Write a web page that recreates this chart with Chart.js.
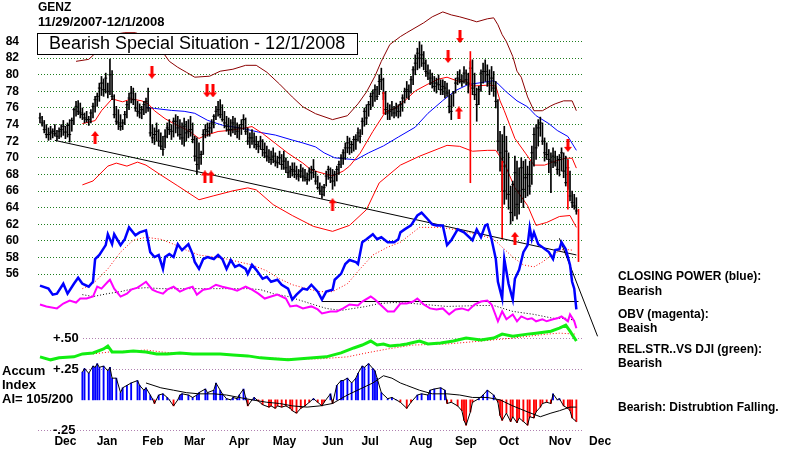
<!DOCTYPE html>
<html>
<head>
<meta charset="utf-8">
<title>GENZ</title>
<script src="https://cdn.jsdelivr.net/npm/chart.js@4"></script>
<style>
  html, body { margin: 0; padding: 0; background: #fff; }
  canvas { display: block; }
</style>
</head>
<body>
<canvas id="chart" width="800" height="453"></canvas>
<script>
// GENZ daily bars 11/29/2007 - 12/1/2008, one entry per trading day (index 0..253)
const highs = [
  75.4,75.0,74.5,74.0,73.6, 73.8,73.5,74.0,73.3,73.6,
  74.0,74.5,73.8,74.2,74.6, 74.8,76.0,76.8,76.9,76.6,
  76.0,75.4,75.6,75.0,75.8, 76.6,77.4,77.8,79.0,79.8,
  79.5,80.2,79.0,81.9,80.5, 77.6,76.2,75.8,75.2,74.6,
  75.6,76.8,77.8,78.6,78.4, 77.8,76.8,76.5,76.2,76.8,
  77.2,78.4,76.0,74.0,73.6, 74.2,73.4,73.0,72.6,73.4,
  74.2,74.6,74.0,74.8,75.2, 75.0,74.6,74.2,74.8,74.4,
  74.6,75.0,74.2,72.6,72.4, 71.8,70.8,73.4,74.0,74.2,
  74.2,74.6,75.2,76.2,76.8, 77.0,76.4,75.6,75.0,74.8,
  74.6,75.0,74.8,74.2,74.0, 74.6,75.2,74.8,73.6,73.0,
  73.4,73.0,72.6,72.0,72.6, 72.2,71.8,71.4,71.0,70.8,
  71.2,70.6,70.2,70.8,70.4, 70.8,70.0,69.6,69.0,69.4,
  69.4,69.0,68.6,69.2,68.8, 68.6,68.2,68.8,69.0,69.8,
  68.4,67.8,67.0,66.6,66.8, 68.4,69.0,68.8,68.6,68.4,
  69.0,69.6,70.4,71.0,71.8, 72.6,72.4,72.0,72.6,72.8,
  73.6,73.4,74.8,76.0,76.4, 76.8,77.8,78.2,78.8,78.6,
  80.0,80.8,79.6,78.0,76.6, 76.4,76.8,76.2,76.6,76.4,
  76.8,77.6,78.4,79.2,78.8, 79.8,81.0,82.4,83.2,84.0,
  83.6,82.8,81.8,81.2,80.6, 80.2,79.8,79.6,80.0,79.4,
  79.4,79.2,79.0,78.2,77.6, 78.0,79.6,80.4,80.6,80.0,
  81.0,80.6,80.2,81.6,81.8, 80.2,78.4,78.6,80.6,81.4,
  81.8,81.2,80.6,81.0,80.4, 79.2,77.0,73.2,72.8,73.8,
  72.6,70.6,66.6,67.2,70.2, 69.6,68.8,70.0,69.6,69.8,
  69.0,69.6,71.4,73.6,74.0, 74.6,74.9,74.2,72.4,71.8,
  71.0,70.6,71.2,70.8,70.2, 70.4,71.2,70.6,70.2,69.8,
  68.4,66.0,65.6,65.2
];
const lows = [
  74.2,73.8,73.0,72.4,72.1, 72.2,72.4,72.6,72.1,72.3,
  72.5,72.7,72.3,72.5,71.9, 73.2,74.0,75.0,75.2,74.8,
  74.6,74.2,74.3,73.9,74.2, 74.8,75.5,76.2,76.8,77.5,
  77.4,77.8,77.2,77.6,77.0, 74.8,74.0,73.4,73.3,73.4,
  74.0,74.8,75.8,76.6,76.4, 75.6,75.0,74.8,74.7,75.2,
  75.4,75.6,72.6,71.8,71.6, 72.0,71.4,71.0,70.3,71.2,
  72.4,72.8,72.2,72.5,73.0, 72.6,72.2,71.6,71.4,72.0,
  72.4,72.6,71.8,69.6,68.0, 68.6,69.2,70.4,72.4,72.6,
  72.6,73.0,73.6,74.6,75.0, 74.8,74.4,73.6,73.2,72.8,
  72.6,73.0,72.8,72.4,72.2, 72.8,73.4,72.8,71.6,71.2,
  71.6,71.2,71.0,70.6,71.0, 70.2,70.0,69.6,69.4,69.2,
  69.4,69.0,68.8,69.2,68.6, 68.6,68.2,67.6,67.6,67.8,
  67.6,67.4,67.2,67.6,67.2, 67.2,66.8,67.2,67.4,67.6,
  66.8,66.2,65.6,65.1,65.4, 66.6,67.4,67.0,66.2,66.6,
  67.2,68.0,68.8,69.2,69.8, 70.6,70.4,70.6,70.8,71.0,
  72.0,71.8,72.8,73.8,74.0, 75.0,75.8,76.2,76.8,77.0,
  77.6,78.2,77.0,75.2,74.6, 74.6,75.0,74.8,75.0,74.8,
  75.0,75.6,76.6,77.2,77.0, 77.8,78.8,80.0,80.6,80.8,
  81.0,80.6,79.8,79.4,78.8, 78.4,78.0,77.8,78.2,77.6,
  77.6,77.2,77.4,75.4,74.6, 76.2,77.8,78.8,79.0,78.6,
  79.0,78.8,77.8,78.6,77.6, 77.0,74.4,76.4,78.0,79.0,
  79.2,78.6,77.6,78.0,77.4, 76.0,70.8,68.4,66.0,64.4,
  65.0,63.8,62.0,62.4,63.0, 62.6,63.2,64.6,64.0,65.2,
  65.4,65.6,66.8,69.0,69.8, 71.4,72.6,71.6,69.6,69.8,
  68.2,65.8,68.8,69.0,68.0, 67.8,68.4,67.6,66.6,66.2,
  64.8,64.0,63.8,63.2
];
const closes = [
  74.8,74.2,73.4,72.8,72.8, 73.0,73.2,72.9,72.6,73.2,
  73.4,73.8,73.1,73.9,72.8, 74.5,75.8,76.2,75.6,75.4,
  75.2,74.8,74.6,74.6,75.4, 76.2,77.0,77.4,78.4,79.0,
  78.2,79.6,78.0,80.0,77.4, 75.2,74.4,74.2,73.8,74.2,
  75.2,76.4,77.2,77.8,77.0, 76.0,75.6,75.4,75.8,76.4,
  76.8,76.0,73.0,72.4,72.8, 73.2,72.0,71.4,71.0,72.6,
  73.6,73.4,73.2,74.4,74.4, 73.6,72.8,72.4,73.8,73.0,
  73.2,73.4,72.2,70.2,69.2, 70.0,70.4,72.8,73.4,73.2,
  73.6,74.2,75.0,75.6,75.8, 75.2,74.6,74.2,73.8,73.4,
  73.4,74.2,73.6,73.2,73.6, 74.0,74.6,73.2,72.0,72.4,
  72.4,72.0,71.6,71.4,72.0, 71.0,70.6,70.2,70.0,69.8,
  70.2,69.6,69.4,70.0,69.2, 69.6,68.8,68.2,68.4,68.6,
  68.4,68.0,67.8,68.4,67.8, 67.6,67.4,68.4,68.2,68.6,
  67.2,66.4,66.0,65.6,66.4, 67.8,68.6,67.6,67.2,68.0,
  68.6,69.2,70.0,70.6,71.2, 71.8,71.2,71.6,72.2,72.2,
  73.0,72.6,74.4,75.6,74.8, 76.4,77.4,77.8,78.2,77.4,
  79.2,79.4,77.8,75.8,75.4, 75.6,75.8,75.4,76.0,75.6,
  76.4,77.2,78.0,78.2,78.0, 79.4,80.6,81.4,82.6,82.0,
  82.4,81.4,80.4,80.2,79.6, 79.0,78.6,79.0,78.8,78.2,
  78.6,78.4,77.8,76.2,75.6, 77.8,79.0,79.6,79.4,79.2,
  80.2,79.4,79.0,80.8,78.4, 77.6,76.4,78.2,80.2,80.4,
  80.4,80.0,79.0,79.6,78.4, 76.8,72.0,70.6,69.0,66.0,
  70.8,65.6,63.4,66.8,68.2, 64.4,66.0,68.8,66.2,67.6,
  68.0,66.6,70.6,72.8,71.2, 73.6,74.2,72.0,70.6,70.4,
  69.8,69.6,70.2,69.4,68.6, 69.8,70.6,68.4,67.0,68.8,
  65.4,64.6,64.2,63.6
];

// bands and averages (price units), read at the listed trading-day index
const upperDays = [17,23,28,34,40,45,50,57,61,65,69,73,80,85,91,97,102,107,113,119,124,130,138,145,150,154,158,161,165,170,173,181,185,190,194,198,203,206,211,214,216,218,220,223,225,227,230,233,237,241,243,247,251,253];
const upperVals = [81.62,81.86,83.05,84.83,85.07,85.07,84.60,83.05,81.62,80.90,80.31,79.71,79.83,80.43,80.67,81.14,81.14,80.31,78.88,77.33,76.14,75.31,74.60,75.07,76.50,77.93,79.83,81.62,83.64,84.60,85.07,86.26,86.98,87.57,87.21,86.98,86.62,86.38,86.74,86.86,86.02,84.83,84.00,82.21,80.43,79.71,77.33,75.67,75.67,76.26,76.50,76.86,76.86,75.67];
const midDays = [20,26,29,34,39,43,48,51,54,59,64,70,75,78,84,89,95,100,105,111,117,124,128,133,138,143,146,151,157,163,168,172,177,183,188,192,197,201,204,212,215,217,219,224,229,233,238,243,248,251,253];
const midVals = [74.12,74.48,75.67,77.10,76.74,77.10,76.86,76.50,75.67,74.71,74.00,73.29,72.33,72.69,73.17,73.29,73.52,73.76,72.93,71.74,70.55,69.36,68.52,68.17,67.81,68.40,69.00,70.55,73.17,75.55,76.02,76.86,78.05,78.88,79.48,79.71,79.24,79.24,78.64,78.76,78.64,76.86,75.67,72.33,70.55,69.12,69.12,69.60,69.95,69.95,68.76];
const lowerDays = [20,25,32,36,41,46,50,57,65,75,82,91,98,102,110,119,129,138,146,154,160,170,179,192,198,204,211,215,219,224,230,234,239,245,250,253];
const lowerVals = [66.74,67.21,69.00,69.36,69.00,69.48,69.12,67.93,66.62,64.95,65.43,66.02,66.38,66.14,64.36,63.05,61.74,61.14,61.86,63.76,66.98,69.12,70.19,71.50,71.38,70.79,70.90,70.90,69.36,66.38,64.24,61.86,62.21,62.93,63.05,61.62];
const blueDays = [50,54,62,68,73,79,86,95,103,111,119,124,130,134,139,144,149,155,162,169,177,183,190,196,202,208,214,216,220,225,230,234,240,244,249,253];
const blueVals = [76.07,75.95,75.71,75.60,75.36,74.52,73.93,73.57,73.10,72.74,72.14,71.79,71.31,70.60,70.00,69.88,69.76,70.60,71.43,72.50,73.69,75.36,76.90,78.10,78.83,79.05,79.29,78.93,77.93,76.86,76.14,75.07,74.12,73.29,72.57,70.90];

// closing power and OBV, plotted against the price grid
const cpDays = [0,4,6,8,11,13,16,18,20,23,25,26,28,31,32,34,35,38,40,42,45,47,50,52,54,56,58,59,61,63,65,67,70,72,73,75,77,79,82,84,86,88,90,92,94,97,98,100,102,105,107,109,112,114,117,119,121,124,126,128,131,133,135,138,139,142,144,146,149,150,152,154,157,159,161,164,167,169,170,172,175,178,180,183,185,187,190,192,194,197,200,204,206,208,210,211,213,215,216,218,219,221,223,224,226,228,230,231,232,233,235,237,240,242,243,245,246,248,250,251,252,253];
const cpVals = [54.60,54.24,53.52,53.64,54.83,53.64,54.83,55.55,54.83,54.48,55.07,57.81,58.29,59.48,60.79,59.60,60.79,59.48,60.19,61.62,60.67,61.02,61.26,58.64,58.05,58.29,56.62,58.05,58.40,58.05,59.60,58.88,59.60,58.40,57.45,56.62,57.81,58.05,57.81,58.29,57.81,56.62,57.69,56.86,57.10,56.62,56.02,57.10,56.50,55.43,55.67,55.07,55.31,54.71,54.24,52.93,53.52,54.24,54.12,54.71,53.88,52.93,53.88,54.12,55.31,56.02,57.21,57.69,57.45,57.21,59.83,60.19,60.79,60.19,60.43,59.83,59.83,60.19,61.02,61.38,61.86,63.05,63.40,62.57,61.98,61.86,61.86,59.48,60.07,61.38,61.02,60.07,61.38,60.43,61.86,61.98,60.19,57.81,55.07,53.05,57.81,54.83,52.93,55.43,56.50,58.64,59.48,61.62,60.19,61.02,59.60,59.24,58.64,57.81,58.88,59.00,59.83,59.00,57.10,55.07,54.24,51.74];
const cpMaDays = [20,25,32,38,44,50,57,63,69,75,82,88,94,100,107,113,119,126,132,138,145,151,157,164,170,179,189,198,208,214,218,223,228,233,237,242,247,251];
const cpMaVals = [54.24,54.83,56.62,58.64,60.07,60.43,60.19,59.60,58.88,58.29,58.05,57.81,57.45,57.10,56.38,55.43,54.71,54.24,53.88,53.88,54.83,56.62,58.29,59.24,59.83,61.62,61.62,61.26,60.67,60.19,59.24,58.05,57.10,56.86,57.45,58.40,59.00,58.88];
const obvDays = [0,3,8,11,14,17,19,22,25,27,29,32,33,35,38,41,43,46,48,50,53,55,58,60,63,66,69,72,74,77,80,83,86,90,93,97,100,103,106,109,112,116,118,121,124,128,131,133,137,140,143,146,150,152,156,158,160,164,167,170,173,176,178,181,184,187,190,193,196,199,202,205,208,211,213,216,218,220,223,225,227,230,232,234,237,239,242,244,246,249,250,252,253];
const obvVals = [52.33,52.10,51.86,52.45,52.81,52.57,53.05,53.05,53.29,54.48,54.24,55.07,55.31,54.24,53.29,53.64,54.12,54.36,54.71,55.07,54.12,53.88,53.64,54.12,54.48,53.88,54.24,54.48,53.52,54.12,54.24,54.71,54.48,54.24,54.00,54.48,54.12,53.64,53.05,53.29,53.52,53.05,52.10,52.21,51.86,52.10,51.74,51.26,51.50,51.50,51.86,52.33,52.21,52.69,53.29,52.93,52.45,51.50,51.50,52.45,52.45,52.69,53.05,52.33,51.86,51.74,51.86,51.14,51.74,51.86,51.62,52.33,52.69,52.81,52.33,50.31,51.50,50.55,51.14,50.31,50.90,50.55,50.67,50.31,50.55,50.31,50.55,50.67,50.90,50.31,51.14,50.31,49.48];
const obvMaDays = [20,25,32,38,44,50,57,69,82,98,104,110,117,123,129,135,142,148,154,160,167,176,192,208,214,223,233,242,249,253];
const obvMaVals = [53.52,53.29,53.64,53.88,54.24,54.36,54.24,54.24,54.24,54.24,54.12,53.64,53.29,52.81,52.33,51.86,51.62,51.86,52.10,52.45,52.57,52.45,52.10,52.21,52.21,51.50,51.14,50.67,50.67,50.31];

// relative strength vs DJI
const rsDays = [0,5,9,16,20,25,30,32,34,39,44,50,55,60,66,72,79,85,91,98,104,110,117,123,129,135,142,148,152,156,159,162,165,170,173,179,183,189,195,201,208,214,218,223,230,234,241,245,248,250,253];
const rsVals = [0.31,0.28,0.30,0.31,0.34,0.35,0.39,0.42,0.36,0.36,0.37,0.36,0.34,0.34,0.35,0.34,0.34,0.34,0.33,0.32,0.30,0.29,0.28,0.29,0.30,0.31,0.35,0.40,0.43,0.47,0.43,0.44,0.42,0.43,0.44,0.47,0.44,0.45,0.47,0.50,0.48,0.50,0.54,0.52,0.54,0.55,0.57,0.60,0.63,0.57,0.47];
const rsMaDays = [25,33,44,50,57,69,82,94,107,119,132,145,154,164,170,176,192,208,223,239,245,253];
const rsMaVals = [0.34,0.36,0.37,0.38,0.36,0.34,0.34,0.33,0.30,0.29,0.29,0.31,0.35,0.39,0.41,0.43,0.44,0.47,0.50,0.54,0.55,0.54];

// accumulation index
const aiDays = [20,21,23,25,26,27,28,30,32,33, 34,36,38,39,41,43,46,47,49,50, 52,53,54,56,58,60,61,63,65,66, 67,70,72,74,75,78,79,82,83,85,
  86,88,90,91,93,94,96,97,98,100, 101,103,105,108,109,111,112,114,116,118, 119,121,123,125,127,129,131,133,134,137,
  138,140,142,143,145,147,149,150,152,153, 155,157,158,159,161,164,166,168,170,173, 175,178,180,183,184,186,189,191,192,194,
  197,199,200,201,203,204,207,209,211,214, 216,217,218,220,222,223,225,226,228,230, 231,233,234,236,237,239,241,242,244,245, 247,249,250,251,253];
const aiVals = [0.23,0.26,0.22,0.28,0.27,0.30,0.27,0.28,0.24,0.27, 0.18,0.18,0.06,0.10,0.12,0.14,0.16,0.12,0.08,0.10, 0.04,0.01,-0.03,0.04,0.05,0.02,0.00,-0.05,0.00,0.04, 0.05,0.04,0.02,0.04,0.06,0.09,0.06,0.08,0.14,0.08,
  0.05,0.01,0.00,0.02,0.01,0.04,0.09,0.02,-0.05,0.00, 0.02,-0.01,-0.04,-0.06,-0.05,-0.07,-0.05,-0.06,-0.05,-0.07, -0.09,-0.11,-0.07,-0.05,-0.02,0.01,-0.02,-0.05,-0.02,0.05,
  -0.03,0.12,0.16,0.16,0.18,0.14,0.18,0.22,0.28,0.27, 0.30,0.26,0.24,0.18,0.06,0.01,0.02,0.00,-0.02,-0.07, -0.02,0.04,0.05,0.04,0.08,0.09,0.10,0.08,-0.03,-0.02,
  -0.05,-0.09,-0.17,-0.21,-0.10,-0.02,0.01,0.04,0.08,0.04, -0.02,-0.13,-0.17,-0.11,-0.18,-0.14,-0.19,-0.15,-0.18,-0.21, -0.14,-0.15,-0.10,-0.06,-0.03,-0.02,-0.03,0.05,0.00,0.01, -0.05,-0.07,-0.09,-0.15,-0.18];
const aiMaDays = [50,57,63,69,75,82,88,94,100,107,113,119,126,132,138,145,151,157,162,166,170,173,179,185,192,198,204,211,217,223,230,236,241,245,250,253];
const aiMaVals = [0.14,0.10,0.08,0.06,0.05,0.05,0.04,0.02,0.00,-0.02,-0.03,-0.05,-0.06,-0.05,-0.03,0.04,0.09,0.14,0.20,0.18,0.14,0.12,0.08,0.05,0.05,0.04,0.02,0.02,0.00,-0.05,-0.10,-0.14,-0.11,-0.09,-0.06,-0.06];

// trend lines
const trendDays = [7, 253];
const trendVals = [72.1, 58.3];
const cpFloorDays = [133, 254];
const cpFloorVals = [52.69, 52.69];
const cpBreakDays = [245, 263];
const cpBreakVals = [60.3, 48.5];

// signals
const sigDays = [162, 203, 218, 249, 254];
const sigLow = [75.3, 67.0, 60.2, 63.8, 57.5];
const sigHigh = [77.9, 82.8, 69.6, 69.7, 63.8];
const upDays = [26, 77.8, 80.7, 138, 197.6, 224];
const upVals = [72.45, 67.7, 67.7, 64.35, 75.4, 60.3];
const downDays = [52.8, 78.8, 81.6, 192.5, 198.1, 249];
const downVals = [80.3, 78.05, 78.05, 82.2, 84.6, 71.5];

// axes
const priceTicks = [56,58,60,62,64,66,68,70,72,74,76,78,80,82,84];
const monthNames = ['Dec','Jan','Feb','Mar','Apr','May','Jun','Jul','Aug','Sep','Oct','Nov','Dec'];
const monthDays = [12, 31.6, 53.3, 72.9, 93.9, 115.3, 138.2, 155.7, 179.7, 200.9, 221.2, 245.3, 264.2];

const boxTitle = 'Bearish Special Situation - 12/1/2008';
const notes = [
  ['CLOSING POWER (blue):', 277], ['Bearish', 292],
  ['OBV (magenta):', 315], ['Beaish', 329],
  ['REL.STR..VS DJI (green):', 350], ['Bearish', 364],
  ['Bearish: Distrubtion Falling.', 408]
];

const FAMILY = "'Liberation Sans', Arial, sans-serif";
Chart.defaults.font.family = FAMILY;

const pts = (xs, ys) => xs.map((x, k) => ({ x: x, y: ys[k] }));

function arrow(up) {
  const c = document.createElement('canvas');
  c.width = 8; c.height = 13;
  const g = c.getContext('2d');
  g.fillStyle = '#ff0000';
  g.beginPath();
  if (up) {
    g.moveTo(4, 0); g.lineTo(8, 5); g.lineTo(5.5, 5); g.lineTo(5.5, 13);
    g.lineTo(2.5, 13); g.lineTo(2.5, 5); g.lineTo(0, 5);
  } else {
    g.moveTo(4, 13); g.lineTo(8, 8); g.lineTo(5.5, 8); g.lineTo(5.5, 0);
    g.lineTo(2.5, 0); g.lineTo(2.5, 8); g.lineTo(0, 8);
  }
  g.closePath();
  g.fill();
  return c;
}

function line(label, xs, ys, color, width, axis, order, extra) {
  return Object.assign({
    type: 'line', label: label, data: pts(xs, ys), yAxisID: axis,
    borderColor: color, borderWidth: width, pointRadius: 0, tension: 0,
    fill: false, order: order
  }, extra || {});
}

const overlay = {
  id: 'overlay',
  afterDraw(chart) {
    const ctx = chart.ctx;
    ctx.save();
    ctx.textBaseline = 'middle';
    ctx.textAlign = 'left';
    ctx.fillStyle = '#000';
    ctx.font = 'bold 12px ' + FAMILY;
    ctx.fillText('GENZ', 38, 8);
    ctx.font = 'bold 13px ' + FAMILY;
    ctx.fillText('11/29/2007-12/1/2008', 38, 22);

    ctx.fillStyle = '#fff';
    ctx.fillRect(37, 33, 321, 22);
    ctx.strokeStyle = '#000';
    ctx.lineWidth = 1;
    ctx.strokeRect(37.5, 33.5, 320, 21);
    ctx.fillStyle = '#000';
    ctx.font = '18px ' + FAMILY;
    ctx.fillText(boxTitle, 49, 44.5);

    ctx.font = 'bold 12px ' + FAMILY;
    notes.forEach(n => ctx.fillText(n[0], 618, n[1]));

    ctx.font = 'bold 13px ' + FAMILY;
    ctx.fillText('Accum', 2, 371);
    ctx.fillText('Index', 2, 385);
    ctx.fillText('AI= 105/200', 2, 399);
    ctx.restore();
  }
};

const tickFont = { family: FAMILY, size: 12, weight: 'bold' };

new Chart(document.getElementById('chart'), {
  type: 'line',
  data: {
    datasets: [
      { type: 'scatter', label: 'up', data: pts(upDays, upVals), yAxisID: 'yP',
        pointStyle: arrow(true), pointRadius: 4, order: 0 },
      { type: 'scatter', label: 'down', data: pts(downDays, downVals), yAxisID: 'yP',
        pointStyle: arrow(false), pointRadius: 4, order: 0 },

      line('Closing power', cpDays, cpVals, '#0000ff', 2.5, 'yP', 1),
      line('OBV', obvDays, obvVals, '#ff00ff', 2, 'yP', 1),
      line('RS vs DJI', rsDays, rsVals, '#11ee11', 3, 'yRS', 1),
      line('AI', aiDays, aiVals, '#000000', 1, 'yAI', 1),
      line('AI avg', aiMaDays, aiMaVals, '#000000', 1, 'yAI', 1),

      line('CP avg', cpMaDays, cpMaVals, '#ff0000', 1, 'yP', 2, { borderDash: [1, 2] }),
      line('OBV avg', obvMaDays, obvMaVals, '#000000', 1, 'yP', 2, { borderDash: [1, 2] }),
      line('RS avg', rsMaDays, rsMaVals, '#ff0000', 1, 'yRS', 2, { borderDash: [1, 2] }),
      line('Trend', trendDays, trendVals, '#000000', 1, 'yP', 2),
      line('CP floor', cpFloorDays, cpFloorVals, '#000000', 1, 'yP', 2),
      line('CP break', cpBreakDays, cpBreakVals, '#000000', 1, 'yP', 2, { clip: false }),

      { type: 'bar', label: 'signals', data: sigDays.map((d, k) => ({ x: d, y: [sigLow[k], sigHigh[k]] })),
        yAxisID: 'yP', backgroundColor: '#ff0000', barThickness: 1, grouped: false, order: 2 },

      { type: 'line', label: 'close', data: closes.map((c, i) => ({ x: i, y: c })), yAxisID: 'yP',
        showLine: false, pointStyle: 'line', pointRadius: 1.5, pointBorderWidth: 1,
        pointBorderColor: '#000', order: 3 },
      { type: 'bar', label: 'range', data: highs.map((h, i) => ({ x: i, y: [lows[i], h] })),
        yAxisID: 'yP', backgroundColor: '#000', barThickness: 1, grouped: false, order: 3 },

      line('Upper band', upperDays, upperVals, '#8b0000', 1, 'yP', 4),
      line('Middle', midDays, midVals, '#ff0000', 1, 'yP', 4),
      line('Lower band', lowerDays, lowerVals, '#ff0000', 1, 'yP', 4),
      line('Long avg', blueDays, blueVals, '#0000ff', 1, 'yP', 4),

      { type: 'bar', label: 'AI bars', data: pts(aiDays, aiVals), yAxisID: 'yAI',
        backgroundColor: aiVals.map(v => v >= 0 ? '#0000ff' : '#ff0000'),
        barThickness: 1.2, grouped: false, order: 5 }
    ]
  },
  options: {
    responsive: false,
    animation: false,
    devicePixelRatio: 1,
    events: [],
    layout: { padding: { left: 0, top: 0, right: 216, bottom: 0 } },
    plugins: { legend: { display: false }, tooltip: { enabled: false }, title: { display: false } },
    scales: {
      x: {
        type: 'linear', min: -0.94, max: 256.6, offset: false,
        grid: { display: false, drawTicks: false }, border: { display: false },
        afterBuildTicks: s => { s.ticks = monthDays.map(v => ({ value: v })); },
        afterFit: s => { s.height = 22; s.paddingLeft = 0; s.paddingRight = 0; },
        ticks: { autoSkip: false, maxRotation: 0, padding: 3, color: '#000', font: tickFont,
          callback: (v, i) => monthNames[i] }
      },
      yP: {
        type: 'linear', position: 'left', weight: 10, min: 37.095, max: 88.405,
        afterBuildTicks: s => { s.ticks = priceTicks.map(v => ({ value: v })); },
        afterFit: s => { s.width = 38; s.paddingTop = 0; s.paddingBottom = 0; },
        grid: { color: '#1f7f1f', lineWidth: 1, drawTicks: false },
        border: { display: false, dash: [1, 2] },
        ticks: { padding: 19, color: '#000', font: tickFont }
      },
      yRS: {
        type: 'linear', position: 'left', weight: 0, min: -0.44, max: 3.87,
        afterBuildTicks: s => { s.ticks = [{ value: 0.5 }]; },
        afterFit: s => { s.width = 0; s.paddingTop = 0; s.paddingBottom = 0; },
        grid: { color: '#b080b0', lineWidth: 1, drawTicks: false },
        border: { display: false, dash: [1, 2] },
        ticks: { mirror: true, padding: 15, color: '#000', font: { family: FAMILY, size: 13, weight: 'bold' },
          showLabelBackdrop: true, backdropColor: '#fff', backdropPadding: { left: 15, right: 3, top: 0, bottom: 0 },
          callback: () => '+.50' }
      },
      yAI: {
        type: 'linear', position: 'left', weight: 0, min: -0.2582, max: 3.2746,
        afterBuildTicks: s => { s.ticks = [{ value: -0.25 }, { value: 0.25 }]; },
        afterFit: s => { s.width = 0; s.paddingTop = 0; s.paddingBottom = 0; },
        grid: { color: '#b080b0', lineWidth: 1, drawTicks: false },
        border: { display: false, dash: [1, 2] },
        ticks: { mirror: true, padding: 15, color: '#000', font: { family: FAMILY, size: 13, weight: 'bold' },
          showLabelBackdrop: true,
          backdropColor: c => (c.tick && c.tick.value > 0 ? '#fff' : 'rgba(255,255,255,0)'),
          backdropPadding: { left: 15, right: 3, top: 0, bottom: 0 },
          callback: v => (v > 0 ? '+.25' : '-.25') }
      }
    }
  },
  plugins: [overlay]
});
</script>
</body>
</html>
